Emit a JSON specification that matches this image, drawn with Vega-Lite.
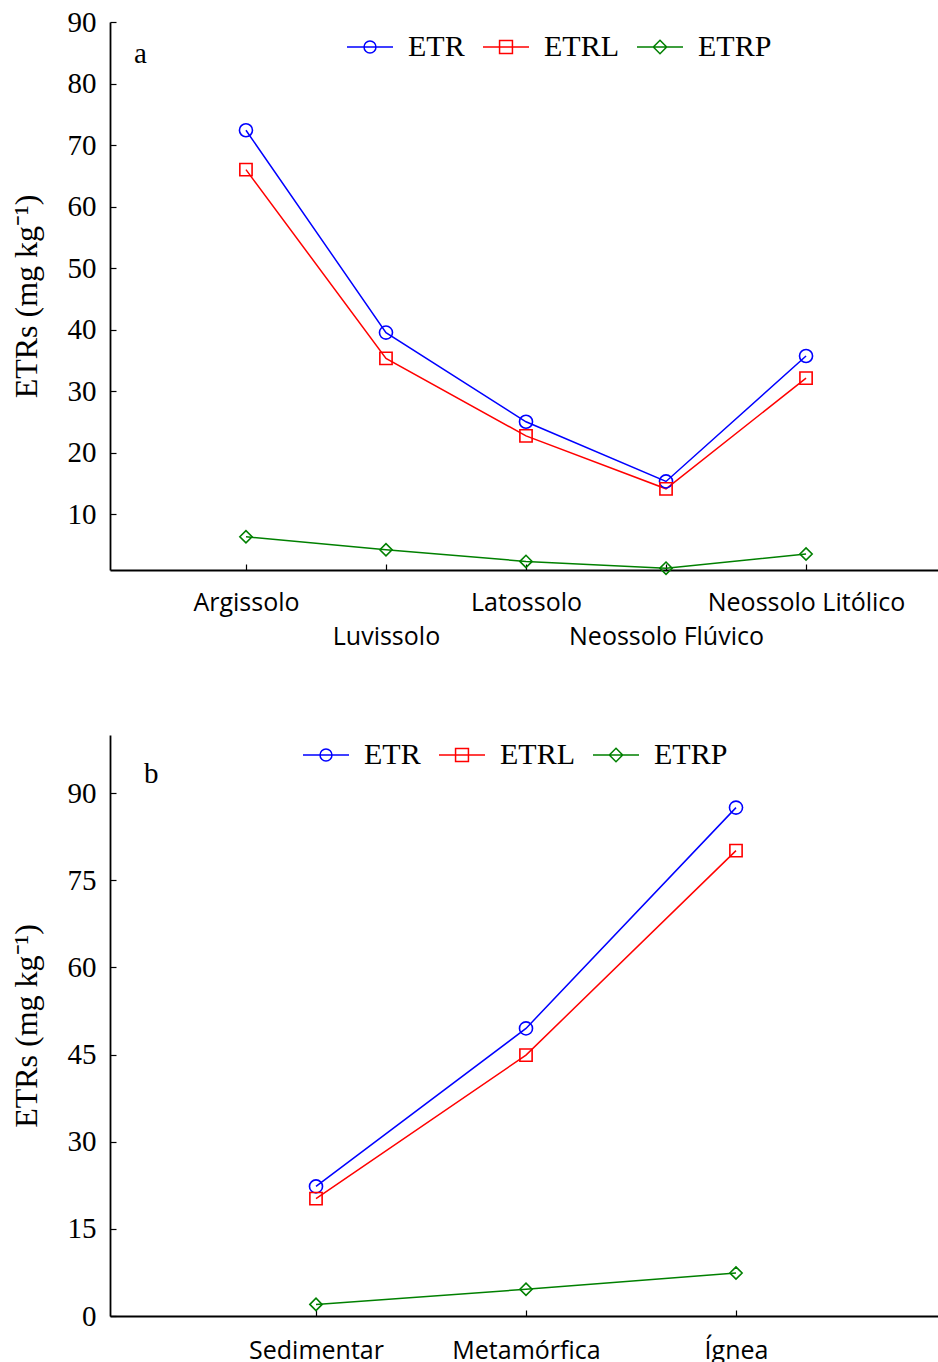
{
  "$schema": "https://vega.github.io/schema/vega-lite/v6.json",
  "padding": {"left": 10, "top": 8, "right": 0, "bottom": 0},
  "spacing": 82,
  "config": {
    "view": {"stroke": null},
    "font": "Liberation Serif",
    "axis": {"domainColor": "black", "domainWidth": 1.8, "tickColor": "black", "tickWidth": 1.2, "grid": false, "labelColor": "black", "titleColor": "black"},
    "axisY": {"labelFont": "Liberation Serif", "labelFontSize": 29},
    "axisX": {"labelFont": "Open Sans", "labelFontSize": 25}
  },
  "resolve": {
    "scale": {"color": "independent"},
    "legend": {"color": "independent"}
  },
  "vconcat": [
    {
      "width": 832,
      "height": 548,
      "title": {"text": "a", "anchor": "start", "frame": "group", "orient": "top", "offset": -40, "dx": 24, "dy": 44, "font": "Liberation Serif", "fontSize": 29, "fontWeight": "normal", "baseline": "alphabetic", "color": "black"},
      "data": {"values": [
        {"solo": "Argissolo", "serie": "ETR", "valor": 72.4},
        {"solo": "Luvissolo", "serie": "ETR", "valor": 39.5},
        {"solo": "Latossolo", "serie": "ETR", "valor": 25.0},
        {"solo": "Neossolo Flúvico", "serie": "ETR", "valor": 15.3},
        {"solo": "Neossolo Litólico", "serie": "ETR", "valor": 35.7},
        {"solo": "Argissolo", "serie": "ETRL", "valor": 66.0},
        {"solo": "Luvissolo", "serie": "ETRL", "valor": 35.3},
        {"solo": "Latossolo", "serie": "ETRL", "valor": 22.7},
        {"solo": "Neossolo Flúvico", "serie": "ETRL", "valor": 14.1},
        {"solo": "Neossolo Litólico", "serie": "ETRL", "valor": 32.1},
        {"solo": "Argissolo", "serie": "ETRP", "valor": 6.3},
        {"solo": "Luvissolo", "serie": "ETRP", "valor": 4.2},
        {"solo": "Latossolo", "serie": "ETRP", "valor": 2.3},
        {"solo": "Neossolo Flúvico", "serie": "ETRP", "valor": 1.2},
        {"solo": "Neossolo Litólico", "serie": "ETRP", "valor": 3.5}
      ]},
      "encoding": {
        "x": {"field": "solo", "type": "nominal", "sort": ["Argissolo", "Luvissolo", "Latossolo", "Neossolo Flúvico", "Neossolo Litólico"],
          "scale": {"type": "point", "padding": 0.971},
          "axis": {"title": null, "labelAngle": 0, "labelOverlap": false, "labelBound": false, "labelFlush": false, "labelLimit": 500, "labelFont": "Open Sans", "labelFontSize": 25, "labelLineHeight": 34, "labelBaseline": "top", "tickSize": -6, "labelPadding": 26,
            "labelExpr": "indexof(['Luvissolo','Neossolo Flúvico'], datum.value) >= 0 ? ['', datum.value] : datum.value"}},
        "y": {"field": "valor", "type": "quantitative",
          "scale": {"domain": [0.9, 90], "nice": false, "zero": false},
          "axis": {"values": [10, 20, 30, 40, 50, 60, 70, 80, 90], "title": "ETRs (mg kg⁻¹)", "titleFont": "Liberation Serif", "titleFontSize": 32, "titleFontWeight": "normal", "titlePadding": 24, "labelFont": "Liberation Serif", "labelFontSize": 29, "tickSize": -6, "labelPadding": 20}},
        "color": {"field": "serie", "type": "nominal", "scale": {"domain": ["ETR", "ETRL", "ETRP"], "range": ["#0000ff", "#ff0000", "#008000"]},
          "legend": {"orient": "none", "legendX": 236, "legendY": 1, "direction": "horizontal", "title": null, "labelFont": "Liberation Serif", "labelFontSize": 30, "labelColor": "black", "labelOffset": 14, "symbolSize": 2116, "symbolStrokeWidth": 1.5, "symbolFillColor": "transparent", "symbolOpacity": 1, "columnPadding": 15, "symbolType": "M-1,0H1",
            "encode": {"symbols": {"update": {"shape": {"signal": "datum.value === 'ETR' ? 'M-1,0H1M0.26,0A0.26,0.26 0 1,1 -0.26,0A0.26,0.26 0 1,1 0.26,0' : datum.value === 'ETRL' ? 'M-1,0H1M-0.28,-0.28H0.28V0.28H-0.28Z' : 'M-1,0H1M0,-0.29L0.29,0L0,0.29L-0.29,0Z'"}, "fill": {"value": "transparent"}, "strokeWidth": {"value": 1.5}, "size": {"value": 2116}, "opacity": {"value": 1}}}}}}
      },
      "layer": [
        {"mark": {"type": "line", "strokeWidth": 1.5}},
        {"transform": [{"filter": "datum.serie == 'ETR'"}],
          "mark": {"type": "point", "shape": "circle", "filled": false, "strokeWidth": 1.6, "size": 170, "opacity": 1}},
        {"transform": [{"filter": "datum.serie == 'ETRL'"}],
          "mark": {"type": "point", "shape": "square", "filled": false, "strokeWidth": 1.6, "size": 150, "opacity": 1}},
        {"transform": [{"filter": "datum.serie == 'ETRP'"}],
          "mark": {"type": "point", "shape": "diamond", "filled": false, "strokeWidth": 1.6, "size": 150, "opacity": 1}}
      ]
    },
    {
      "width": 832,
      "height": 581,
      "title": {"text": "b", "anchor": "start", "frame": "group", "orient": "top", "offset": -52, "dx": 34, "dy": 29, "font": "Liberation Serif", "fontSize": 29, "fontWeight": "normal", "baseline": "alphabetic", "color": "black"},
      "data": {"values": [
        {"rocha": "Sedimentar", "serie": "ETR", "valor": 22.3},
        {"rocha": "Metamórfica", "serie": "ETR", "valor": 49.5},
        {"rocha": "Ígnea", "serie": "ETR", "valor": 87.5},
        {"rocha": "Sedimentar", "serie": "ETRL", "valor": 20.2},
        {"rocha": "Metamórfica", "serie": "ETRL", "valor": 44.9},
        {"rocha": "Ígnea", "serie": "ETRL", "valor": 80.1},
        {"rocha": "Sedimentar", "serie": "ETRP", "valor": 2.0},
        {"rocha": "Metamórfica", "serie": "ETRP", "valor": 4.6},
        {"rocha": "Ígnea", "serie": "ETRP", "valor": 7.4}
      ]},
      "encoding": {
        "x": {"field": "rocha", "type": "nominal", "sort": ["Sedimentar", "Metamórfica", "Ígnea"],
          "scale": {"type": "point", "padding": 0.981},
          "axis": {"title": null, "labelAngle": 0, "labelOverlap": false, "labelBound": false, "labelFlush": false, "labelLimit": 500, "labelFont": "Open Sans", "labelFontSize": 25, "labelBaseline": "top", "tickSize": -6, "labelPadding": 28}},
        "y": {"field": "valor", "type": "quantitative",
          "scale": {"domain": [0, 100], "nice": false, "zero": false},
          "axis": {"values": [0, 15, 30, 45, 60, 75, 90], "title": "ETRs (mg kg⁻¹)", "titleFont": "Liberation Serif", "titleFontSize": 32, "titleFontWeight": "normal", "titlePadding": 24, "labelFont": "Liberation Serif", "labelFontSize": 29, "tickSize": -6, "labelPadding": 20}},
        "color": {"field": "serie", "type": "nominal", "scale": {"domain": ["ETR", "ETRL", "ETRP"], "range": ["#0000ff", "#ff0000", "#008000"]},
          "legend": {"orient": "none", "legendX": 192, "legendY": -4, "direction": "horizontal", "title": null, "labelFont": "Liberation Serif", "labelFontSize": 30, "labelColor": "black", "labelOffset": 14, "symbolSize": 2116, "symbolStrokeWidth": 1.5, "symbolFillColor": "transparent", "symbolOpacity": 1, "columnPadding": 15, "symbolType": "M-1,0H1",
            "encode": {"symbols": {"update": {"shape": {"signal": "datum.value === 'ETR' ? 'M-1,0H1M0.26,0A0.26,0.26 0 1,1 -0.26,0A0.26,0.26 0 1,1 0.26,0' : datum.value === 'ETRL' ? 'M-1,0H1M-0.28,-0.28H0.28V0.28H-0.28Z' : 'M-1,0H1M0,-0.29L0.29,0L0,0.29L-0.29,0Z'"}, "fill": {"value": "transparent"}, "strokeWidth": {"value": 1.5}, "size": {"value": 2116}, "opacity": {"value": 1}}}}}}
      },
      "layer": [
        {"mark": {"type": "line", "strokeWidth": 1.5}},
        {"transform": [{"filter": "datum.serie == 'ETR'"}],
          "mark": {"type": "point", "shape": "circle", "filled": false, "strokeWidth": 1.6, "size": 170, "opacity": 1}},
        {"transform": [{"filter": "datum.serie == 'ETRL'"}],
          "mark": {"type": "point", "shape": "square", "filled": false, "strokeWidth": 1.6, "size": 150, "opacity": 1}},
        {"transform": [{"filter": "datum.serie == 'ETRP'"}],
          "mark": {"type": "point", "shape": "diamond", "filled": false, "strokeWidth": 1.6, "size": 150, "opacity": 1}}
      ]
    }
  ]
}
